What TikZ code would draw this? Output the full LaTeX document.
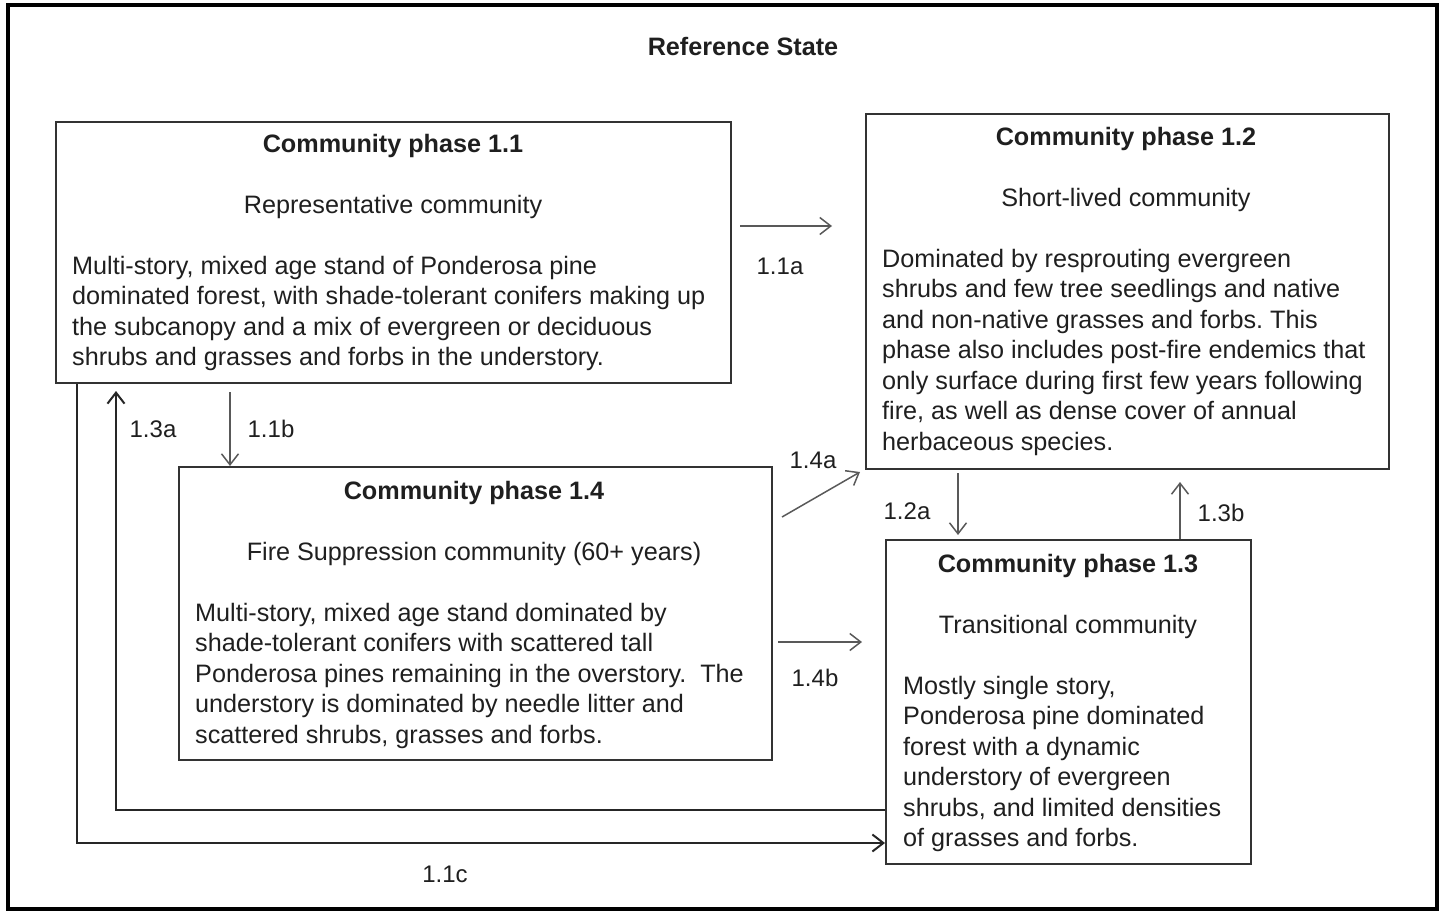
\documentclass[tikz,border=0pt]{standalone}
\usepackage{fontspec}
\setmainfont{Liberation Sans}
\usetikzlibrary{arrows.meta,calc}
\frenchspacing
\begin{document}
\begin{tikzpicture}[x=1pt,y=-1pt,
  every node/.style={font=\fontsize{25.2}{30.5}\selectfont, text=black!88, inner sep=0pt},
  box/.style={draw=black!80, line width=2pt, anchor=north west},
  ttl/.style={anchor=base, font=\fontsize{25.2}{30.5}\selectfont\bfseries},
  sub/.style={anchor=base},
  para/.style={anchor=base west, align=left},
  lbl/.style={anchor=base, font=\fontsize{24}{30}\selectfont},
  arr/.style={draw=black!65, line width=1.5pt, -{Straight Barb[length=11pt,width=17pt,line width=1.5pt]}},
  thickarr/.style={draw=black!85, line width=2.2pt, -{Straight Barb[length=11pt,width=17pt,line width=2pt]}}]
\useasboundingbox (0,0) rectangle (1449,913);
\draw[line width=3.5pt, black] (8,5) rectangle (1437,909);
\node[ttl] (rs) at (743,55) {Reference State};

% boxes
\node[box, minimum width=675pt, minimum height=261pt] (b11) at (55,121) {};
\node[box, minimum width=523pt, minimum height=355pt] (b12) at (865,113) {};
\node[box, minimum width=593pt, minimum height=293pt] (b14) at (178,466) {};
\node[box, minimum width=365pt, minimum height=324pt] (b13) at (885,539) {};

% box 1.1
\node[ttl] (t11) at (393,152) {Community phase 1.1};
\node[sub] (s11) at (393,213) {Representative community};
\node[para] (p11) at (72,365.5) {Multi-story, mixed age stand of Ponderosa pine\\dominated forest, with shade-tolerant conifers making up\\the subcanopy and a mix of evergreen or deciduous\\shrubs and grasses and forbs in the understory.};

% box 1.2
\node[ttl] (t12) at (1126,145) {Community phase 1.2};
\node[sub] (s12) at (1126,206) {Short-lived community};
\node[para] (p12) at (882,450) {Dominated by resprouting evergreen\\shrubs and few tree seedlings and native\\and non-native grasses and forbs. This\\phase also includes post-fire endemics that\\only surface during first few years following\\fire, as well as dense cover of annual\\herbaceous species.};

% box 1.4
\node[ttl] (t14) at (474,499) {Community phase 1.4};
\node[sub] (s14) at (474,560) {Fire Suppression community (60+ years)};
\node[para] (p14) at (195,743) {Multi-story, mixed age stand dominated by\\shade-tolerant conifers with scattered tall\\Ponderosa pines remaining in the overstory.~ The\\understory is dominated by needle litter and\\scattered shrubs, grasses and forbs.};

% box 1.3
\node[ttl] (t13) at (1068,572) {Community phase 1.3};
\node[sub] (s13) at (1068,633) {Transitional community};
\node[para] (p13) at (903,846.5) {Mostly single story,\\Ponderosa pine dominated\\forest with a dynamic\\understory of evergreen\\shrubs, and limited densities\\of grasses and forbs.};

% connectors
\coordinate (a1s) at (740,226);
\coordinate (a1e) at (832,226);
\draw[arr] (a1s) -- (a1e);
\node[lbl] (l11a) at (780,274) {1.1a};

\coordinate (b1s) at (230,392);
\draw[arr] (b1s) -- (b14.north -| b1s);
\node[lbl] (l11b) at (271,437) {1.1b};

\coordinate (c3a) at (116,810);
\coordinate (c3b) at (116,391);
\draw[thickarr] (b13.west |- c3a) -- (c3a) -- (c3b);
\node[lbl] (l13a) at (153,437) {1.3a};

\coordinate (c1c) at (77,843);
\draw[thickarr] (b11.south -| c1c) -- (c1c) -- (b13.west |- c1c);
\node[lbl] (l11c) at (445,882) {1.1c};

\coordinate (d4s) at (782,517);
\coordinate (d4e) at (860,472);
\draw[arr] (d4s) -- (d4e);
\node[lbl] (l14a) at (813,468) {1.4a};

\coordinate (e4s) at (778,642);
\coordinate (e4e) at (862,642);
\draw[arr] (e4s) -- (e4e);
\node[lbl] (l14b) at (815,686) {1.4b};

\coordinate (f2s) at (958,473);
\coordinate (f2e) at (958,535);
\draw[arr] (f2s) -- (f2e);
\node[lbl] (l12a) at (907,519) {1.2a};

\coordinate (g3e) at (1180,482);
\draw[arr] (b13.north -| g3e) -- (g3e);
\node[lbl] (l13b) at (1221,521) {1.3b};
\end{tikzpicture}
\end{document}
